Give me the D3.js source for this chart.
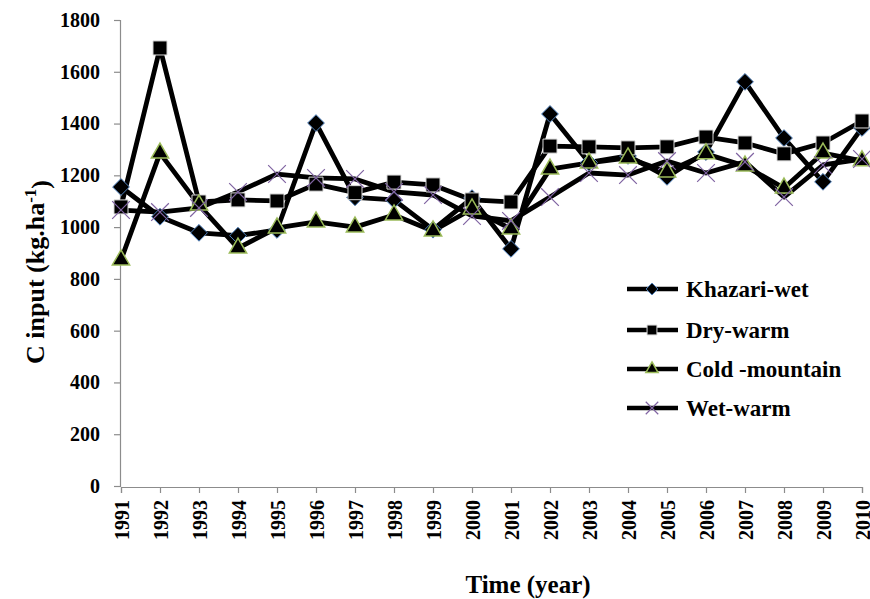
<!DOCTYPE html>
<html>
<head>
<meta charset="utf-8">
<script src="https://cdn.jsdelivr.net/npm/d3@7"></script>
<style>
  html, body { margin: 0; padding: 0; background: #fff; }
  svg text { font-family: "Liberation Serif", "Times New Roman", serif; font-weight: bold; fill: #000; }
</style>
</head>
<body>
<svg id="chart" width="870" height="599"></svg>
<script>
// Annual carbon input by climate region, 1991-2010
const years = [1991, 1992, 1993, 1994, 1995, 1996, 1997, 1998, 1999, 2000,
               2001, 2002, 2003, 2004, 2005, 2006, 2007, 2008, 2009, 2010];
const khazariWet    = [1155, 1040, 978, 967, 989, 1402, 1115, 1105, 990, 1112,
                       916, 1437, 1250, 1275, 1194, 1290, 1561, 1344, 1175, 1383];
const dryWarm       = [1078, 1692, 1097, 1105, 1101, 1166, 1133, 1174, 1163, 1105,
                       1097, 1313, 1310, 1306, 1310, 1348, 1325, 1283, 1325, 1410];
const coldMountain  = [873, 1286, 1085, 919, 997, 1020, 1000, 1047, 985, 1070,
                       993, 1224, 1248, 1267, 1213, 1283, 1236, 1151, 1286, 1256];
const wetWarm       = [1066, 1058, 1074, 1136, 1205, 1190, 1186, 1136, 1124, 1043,
                       1024, 1116, 1209, 1201, 1255, 1209, 1252, 1116, 1240, 1263];
const seriesNames   = ["Khazari-wet", "Dry-warm", "Cold -mountain", "Wet-warm"];
const yTicks        = [0, 200, 400, 600, 800, 1000, 1200, 1400, 1600, 1800];

const series = [
  { name: seriesNames[0], values: khazariWet,   marker: "diamond"  },
  { name: seriesNames[1], values: dryWarm,      marker: "square"   },
  { name: seriesNames[2], values: coldMountain, marker: "triangle" },
  { name: seriesNames[3], values: wetWarm,      marker: "cross"    }
];

const svg = d3.select("#chart");
const x = d3.scalePoint().domain(years).range([121, 862]);
const y = d3.scaleLinear().domain([0, 1800]).range([486, 20]);
const axisColor = "#8c8c8c";

// Axes
const yAxis = svg.append("g").attr("transform", "translate(120,0)")
  .call(d3.axisLeft(y).tickValues(yTicks).tickSize(6).tickPadding(14).tickFormat(d3.format("d")));
yAxis.selectAll("text").style("font-size", "20px");

const xAxis = svg.append("g").attr("transform", "translate(0,487)")
  .call(d3.axisBottom(x).tickSize(6).tickFormat(d3.format("d")));
xAxis.selectAll("text")
  .style("font-size", "20px")
  .attr("text-anchor", "end")
  .attr("transform", "rotate(-90)")
  .attr("x", -13).attr("y", 0).attr("dy", "0.35em");

[yAxis, xAxis].forEach(g => {
  g.select(".domain").attr("stroke", axisColor).attr("stroke-width", 1.2);
  g.selectAll(".tick line").attr("stroke", axisColor).attr("stroke-width", 1.2);
});

// Axis titles
const yTitle = svg.append("text")
  .attr("transform", "translate(44,272) rotate(-90)")
  .attr("text-anchor", "middle")
  .style("font-size", "26px");
yTitle.append("tspan").text("C input (kg.ha");
yTitle.append("tspan").attr("dy", "-0.5em").style("font-size", "17px").text("-1");
yTitle.append("tspan").attr("dy", "0.5em").text(")");

svg.append("text")
  .attr("x", 528).attr("y", 593)
  .attr("text-anchor", "middle")
  .style("font-size", "25px")
  .text("Time (year)");

// Marker shapes
function drawMarker(g, type, size) {
  if (type === "diamond") {
    g.append("path").attr("d", d3.symbol(d3.symbolDiamond2, size * size * 0.62)())
      .attr("fill", "#000").attr("stroke", "#4f81bd").attr("stroke-width", 1);
  } else if (type === "square") {
    g.append("path").attr("d", d3.symbol(d3.symbolSquare, size * size * 0.68)())
      .attr("fill", "#000").attr("stroke", "#d9d9d9").attr("stroke-width", 1);
  } else if (type === "triangle") {
    g.append("path").attr("d", d3.symbol(d3.symbolTriangle, size * size * 0.45)())
      .attr("fill", "#000").attr("stroke", "#9bbb59").attr("stroke-width", 1.5);
  } else {
    const h = size * 0.52;
    g.append("path").attr("d", `M${-h},${-h}L${h},${h}M${-h},${h}L${h},${-h}`)
      .attr("fill", "none").attr("stroke", "#8064a2").attr("stroke-width", 1.2);
  }
}

const line = d3.line().x((d, i) => x(years[i])).y(d => y(d));

series.forEach(s => {
  svg.append("path").datum(s.values)
    .attr("d", line)
    .attr("fill", "none").attr("stroke", "#000")
    .attr("stroke-width", 4.8).attr("stroke-linejoin", "round");
});
series.forEach(s => {
  s.values.forEach((v, i) => {
    const g = svg.append("g").attr("transform", `translate(${x(years[i])},${y(v)})`);
    drawMarker(g, s.marker, 17);
  });
});

// Legend
const legendRows = [289, 330, 369, 408];
series.forEach((s, i) => {
  const g = svg.append("g").attr("transform", `translate(627,${legendRows[i]})`);
  g.append("line").attr("x1", 0).attr("x2", 51).attr("y1", 0).attr("y2", 0)
    .attr("stroke", "#000").attr("stroke-width", 4.5);
  const m = g.append("g").attr("transform", "translate(25,0)");
  drawMarker(m, s.marker, 12);
  g.append("text").attr("x", 59).attr("y", 0).attr("dy", "0.35em")
    .style("font-size", "23px").text(s.name);
});
</script>
</body>
</html>
